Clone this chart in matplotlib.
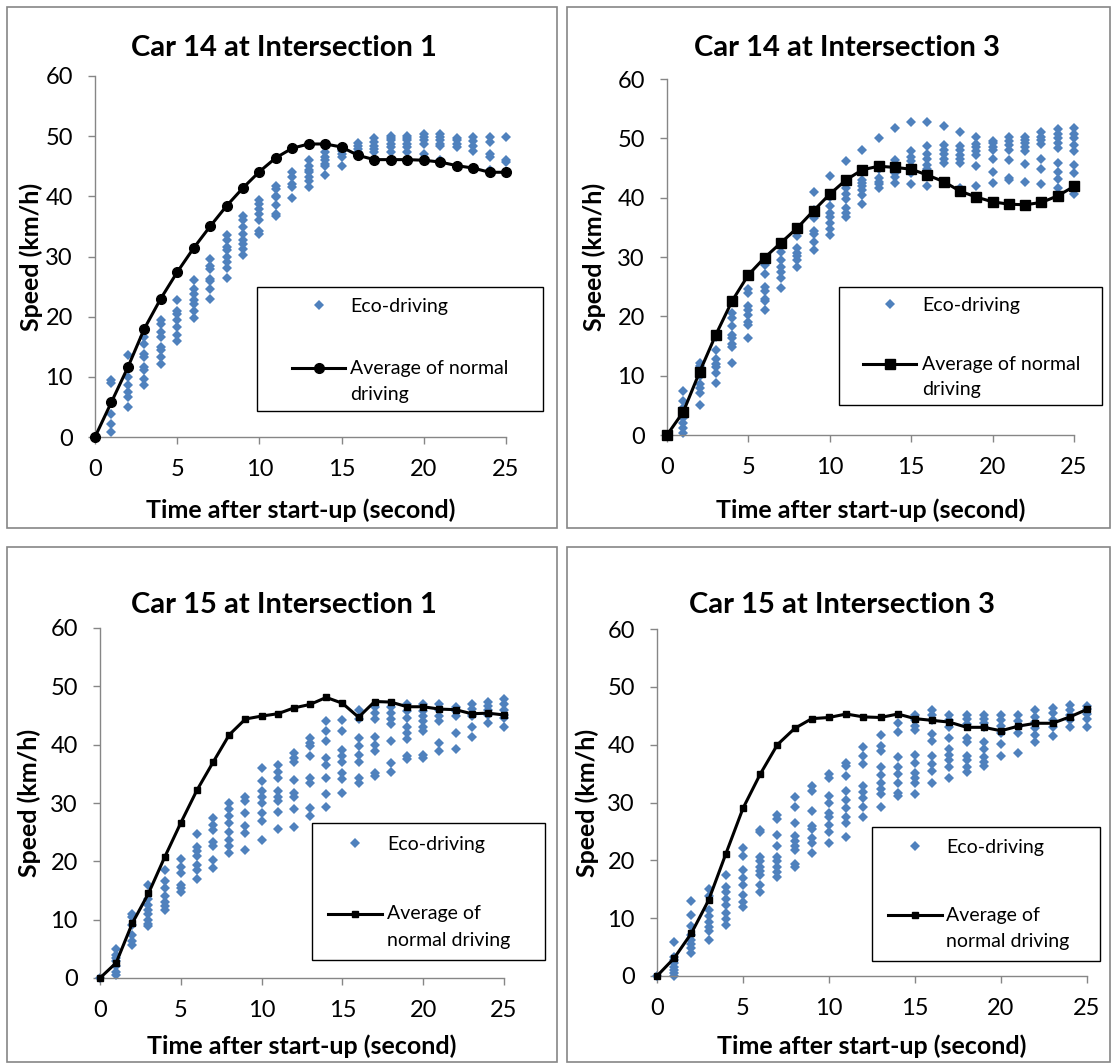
import matplotlib
matplotlib.use("Agg")
import matplotlib.pyplot as plt
from matplotlib.lines import Line2D
from matplotlib.patches import Rectangle
from matplotlib.legend_handler import HandlerLine2D
from matplotlib.transforms import Affine2D

plt.rcParams['font.family'] = ['Lato', 'DejaVu Sans']

seconds = list(range(26))

# average of normal driving (km/h), one value per second
avg_14_1 = [0, 5.8, 11.6, 18.0, 23.0, 27.4, 31.4, 35.0, 38.4, 41.4, 44.1, 46.4, 48.0,
            48.7, 48.7, 48.2, 46.8, 46.1, 46.1, 46.1, 46.0, 45.7, 45.1, 44.7, 44.0, 44.0]
avg_14_3 = [0, 3.9, 10.6, 16.9, 22.6, 27.0, 29.9, 32.4, 34.9, 37.8, 40.6, 43.0, 44.7,
            45.3, 45.1, 44.8, 43.8, 42.7, 41.1, 40.1, 39.3, 38.9, 38.8, 39.2, 40.3, 41.9]
avg_15_1 = [0, 2.6, 9.4, 14.5, 20.7, 26.6, 32.2, 37.0, 41.7, 44.4, 44.9, 45.3, 46.3,
            46.9, 48.1, 47.1, 44.7, 47.4, 47.3, 46.5, 46.5, 46.1, 46.0, 45.3, 45.4, 45.1]
avg_15_3 = [0, 3.1, 7.4, 13.1, 21.1, 29.0, 34.9, 40.0, 42.8, 44.5, 44.7, 45.3, 44.8,
            44.7, 45.3, 44.5, 44.2, 43.9, 43.0, 43.0, 42.4, 43.2, 43.7, 43.7, 44.8, 46.1]

# eco-driving speeds (km/h), one list of drivers per second
eco_14_1 = [
    [0],
    [9.5, 8.9, 5.6, 3.9, 2.2, 0.8],
    [13.6, 11.4, 10.0, 8.6, 7.5, 6.6, 5.0],
    [16.6, 15.5, 13.8, 13.3, 11.6, 11.1, 9.7, 8.7],
    [19.5, 18.8, 17.4, 16.6, 15.0, 14.4, 13.3, 12.2],
    [22.7, 21.0, 20.5, 19.4, 18.3, 16.9, 15.9],
    [26.1, 24.6, 23.8, 22.7, 22.1, 20.9, 19.7],
    [29.6, 28.5, 28.0, 26.3, 26.0, 24.6, 23.0],
    [33.5, 32.7, 31.6, 31.0, 29.9, 29.1, 28.1, 26.5],
    [36.8, 36.0, 34.9, 33.8, 32.7, 32.1, 31.3, 30.3],
    [39.4, 38.8, 37.9, 37.1, 36.0, 34.3, 33.8],
    [41.8, 41.3, 40.1, 39.9, 38.6, 37.1, 36.8],
    [44.0, 43.2, 42.1, 41.6, 39.8],
    [46.0, 45.0, 44.4, 44.0, 43.2, 42.6, 41.6],
    [47.3, 46.5, 46.0, 45.4, 45.0, 43.5],
    [47.9, 47.6, 47.1, 46.6, 45.1],
    [48.8, 48.4, 47.9, 47.3, 46.8],
    [49.7, 49.0, 48.4, 47.9, 47.3],
    [50.1, 49.7, 49.3, 48.7, 48.2, 47.3],
    [50.1, 49.7, 49.3, 48.7, 48.2, 47.3],
    [50.4, 49.8, 49.3, 48.7, 47.0],
    [50.4, 49.8, 49.3, 48.7, 48.3, 46.1],
    [49.7, 49.3, 48.7, 48.2, 45.0],
    [49.8, 49.2, 48.4, 47.6, 44.7],
    [49.8, 49.0, 47.1, 46.5, 44.4],
    [49.8, 46.0, 45.7],
]
eco_14_3 = [
    [0],
    [7.5, 5.8, 4.5, 3.7, 2.8, 2.0, 1.1, 0.4],
    [12.2, 11.6, 9.9, 8.6, 7.9, 7.0, 5.1],
    [16.5, 14.3, 12.8, 12.0, 11.4, 10.4, 8.8],
    [20.5, 19.8, 18.4, 16.9, 16.3, 15.4, 14.9, 12.2],
    [24.6, 23.9, 21.7, 21.1, 20.2, 19.1, 18.5, 16.3],
    [28.7, 27.2, 25.0, 24.3, 23.0, 22.6, 21.1],
    [32.0, 30.9, 29.5, 28.3, 27.5, 26.4, 24.7],
    [33.5, 31.5, 30.7, 30.1, 29.5, 28.3],
    [41.0, 37.9, 36.5, 34.3, 33.9, 32.6, 31.1],
    [43.7, 40.1, 38.6, 37.4, 36.7, 35.7, 34.8, 33.7],
    [46.1, 41.6, 40.7, 39.7, 38.2, 37.4, 36.7],
    [48.1, 43.0, 42.4, 41.9, 41.3, 40.4, 39.0],
    [50.0, 44.9, 43.3, 42.7, 42.3, 41.6],
    [51.7, 46.3, 45.5, 44.7, 44.1, 43.5, 42.4],
    [52.8, 47.8, 46.8, 46.1, 45.3, 44.9, 44.2, 42.3],
    [52.8, 48.7, 47.4, 46.5, 45.5, 44.8, 42.0],
    [52.0, 48.9, 48.1, 47.4, 46.6, 45.8],
    [51.1, 48.7, 48.0, 47.2, 46.6, 45.8, 41.6],
    [50.2, 49.0, 48.6, 47.9, 47.2, 45.3, 41.9],
    [49.6, 49.2, 48.6, 48.0, 46.6, 44.4, 42.4],
    [50.2, 49.6, 48.9, 48.0, 46.3, 43.3, 42.9],
    [50.3, 49.7, 49.2, 48.6, 47.9, 45.7, 42.7],
    [51.0, 50.3, 49.7, 49.0, 46.6, 44.9, 42.3],
    [51.5, 50.8, 50.0, 49.2, 48.3, 45.9, 44.4, 43.1, 41.7],
    [51.7, 50.8, 50.0, 48.9, 47.9, 45.5, 44.1, 40.7],
]
eco_15_1 = [
    [0],
    [4.9, 4.0, 3.4, 2.9, 2.0, 1.1, 0.6],
    [10.9, 10.5, 9.1, 7.4, 6.3, 5.7],
    [16.0, 13.5, 12.6, 11.7, 10.9, 10.0, 9.3, 8.9],
    [18.5, 16.6, 15.4, 14.0, 13.1, 12.4, 11.6],
    [20.4, 19.1, 18.0, 16.0, 15.4, 14.7],
    [24.7, 22.5, 21.7, 20.9, 19.4, 18.6, 17.0],
    [27.4, 26.3, 25.4, 23.4, 22.6, 20.3, 18.9],
    [30.0, 29.0, 27.7, 26.6, 25.1, 23.7, 22.6, 21.4],
    [31.1, 30.3, 28.3, 26.0, 24.9, 22.0],
    [36.0, 33.7, 32.0, 31.1, 30.0, 28.3, 26.9, 23.7],
    [36.6, 35.4, 34.3, 32.0, 31.1, 30.3, 28.4, 25.5],
    [38.6, 37.7, 37.1, 34.0, 31.7, 31.1, 29.0, 25.9],
    [41.1, 40.3, 39.7, 38.0, 34.3, 33.4, 29.1, 27.8],
    [44.0, 42.3, 40.6, 37.7, 36.6, 34.3, 31.6, 29.3],
    [44.2, 42.3, 39.1, 38.1, 37.1, 35.1, 34.1, 31.8],
    [46.0, 44.4, 41.1, 39.7, 38.3, 37.1, 34.3, 33.5],
    [46.5, 45.4, 44.4, 41.4, 40.0, 39.0, 35.1, 34.7],
    [46.5, 45.4, 44.4, 43.6, 40.6, 36.9, 35.4],
    [46.9, 45.7, 44.6, 43.0, 42.0, 41.0, 38.0, 37.5],
    [46.9, 45.7, 44.9, 44.0, 43.1, 42.3, 38.3, 37.7],
    [46.9, 45.9, 44.9, 44.0, 40.3, 39.0],
    [46.5, 45.7, 44.9, 42.0, 39.3],
    [46.9, 46.1, 45.3, 44.9, 43.1, 41.3],
    [47.4, 46.7, 45.9, 45.1, 43.7],
    [47.8, 46.9, 46.0, 45.1, 44.6, 43.0],
]
eco_15_3 = [
    [0],
    [5.9, 3.3, 2.8, 2.2, 1.6, 1.0, 0.5, 0.0],
    [13.0, 10.5, 8.6, 7.1, 6.2, 5.6, 4.8, 3.9],
    [15.0, 13.8, 11.4, 10.3, 9.4, 8.5, 7.7, 6.3],
    [17.5, 15.4, 14.6, 13.4, 12.3, 10.9, 9.8, 8.8],
    [22.1, 20.7, 18.3, 16.9, 15.7, 14.0, 12.8, 11.9],
    [25.3, 24.9, 20.6, 19.9, 18.9, 18.2, 17.5, 15.7, 14.6],
    [27.8, 27.2, 24.4, 22.4, 20.6, 19.8, 18.8, 17.9, 17.1],
    [31.0, 29.3, 26.4, 24.2, 23.4, 22.4, 21.8, 19.4, 18.9],
    [32.8, 32.0, 28.6, 25.9, 25.5, 23.8, 23.0, 21.3],
    [34.9, 34.3, 31.1, 30.0, 28.1, 27.5, 26.1, 24.9, 23.0],
    [36.9, 36.3, 34.6, 32.0, 30.4, 29.0, 27.5, 26.4, 24.0],
    [39.6, 38.0, 36.6, 32.8, 31.9, 30.7, 29.3, 27.5],
    [41.6, 39.7, 38.9, 36.2, 34.7, 33.3, 32.4, 31.5, 29.3],
    [43.7, 42.2, 37.9, 36.2, 34.9, 33.3, 31.6, 31.1],
    [45.1, 44.2, 43.2, 42.6, 38.2, 36.8, 35.1, 34.3, 33.4, 31.5],
    [46.0, 45.1, 44.2, 41.9, 40.7, 38.0, 36.6, 35.5, 33.3],
    [45.1, 44.2, 43.0, 41.1, 39.3, 38.2, 37.3, 36.2, 34.3],
    [45.1, 44.5, 43.5, 41.1, 40.5, 38.0, 37.3, 36.2, 35.3],
    [45.1, 44.4, 43.7, 43.0, 40.5, 39.2, 37.9, 37.0, 36.3],
    [45.1, 44.2, 43.2, 42.1, 40.1, 38.0],
    [45.1, 44.1, 43.1, 42.1, 38.6],
    [46.0, 44.8, 44.0, 42.8, 41.6, 40.5],
    [46.3, 45.4, 44.2, 43.1, 41.5],
    [46.8, 46.0, 45.1, 44.2, 43.0],
    [46.7, 46.1, 45.3, 44.5, 43.1],
]

titles = ["Car 14 at Intersection 1", "Car 14 at Intersection 3",
          "Car 15 at Intersection 1", "Car 15 at Intersection 3"]
x_ticks = [0, 5, 10, 15, 20, 25]
y_ticks = [0, 10, 20, 30, 40, 50, 60]

W, H = 1113, 1064
ECO = '#4F81BD'
GRID = '#868686'


class FirstLineHandler(HandlerLine2D):
    """Put the line handle next to the first line of a two-line label."""
    def __init__(self, shift, **kw):
        super().__init__(**kw)
        self.shift = shift

    def create_artists(self, legend, orig_handle, xdescent, ydescent,
                       width, height, fontsize, trans):
        trans = Affine2D().translate(0, self.shift) + trans
        return super().create_artists(legend, orig_handle, xdescent, ydescent,
                                      width, height, fontsize, trans)


def fx(px):
    return px / W


def fy(py):
    return 1 - py / H


def draw_panel(fig, p, title, avg, eco):
    # outer chart border
    x0, y0, x1, y1 = p['box']
    fig.patches.append(Rectangle((fx(x0), fy(y1)), fx(x1 - x0), (y1 - y0) / H,
                                 transform=fig.transFigure, fill=False,
                                 edgecolor=GRID, linewidth=1.2))
    ax0, ay0, ax1, ay1 = p['axes']
    ax = fig.add_axes([fx(ax0), fy(ay1), fx(ax1 - ax0), (ay1 - ay0) / H])

    ex = [t for t, vals in zip(seconds, eco) for _ in vals]
    ey = [v for vals in eco for v in vals]
    ax.plot(ex, ey, linestyle='none', marker='D', markersize=5.2, color=ECO,
            markeredgewidth=0, label='Eco-driving', zorder=2, clip_on=False)
    ax.plot(seconds, avg, color='black', linewidth=2.2, marker=p['marker'],
            markersize=p['ms'], zorder=3, clip_on=False)

    ax.set_xlim(0, 25)
    ax.set_ylim(0, 60)
    ax.set_xticks(x_ticks)
    ax.set_yticks(y_ticks)
    for s in ['top', 'right']:
        ax.spines[s].set_visible(False)
    for s in ['left', 'bottom']:
        ax.spines[s].set_color(GRID)
        ax.spines[s].set_linewidth(1.0)
    ax.tick_params(direction='out', length=5, width=1.0, color=GRID,
                   labelsize=17, labelcolor='black')
    ax.tick_params(axis='x', pad=11)
    ax.tick_params(axis='y', pad=11)

    ah = ay1 - ay0
    aw = ax1 - ax0
    ax.set_xlabel('Time after start-up (second)', fontsize=18, fontweight='bold',
                  va='center')
    ax.xaxis.set_label_coords(0.5, -(p['xlab_y'] - ay1) / ah)
    ax.set_ylabel('Speed (km/h)', fontsize=18, fontweight='bold', va='center')
    ax.yaxis.set_label_coords(-(ax0 - p['ylab_x']) / aw, 0.5)

    tx, ty = p['title']
    fig.text(fx(tx), fy(ty), title, fontsize=21, fontweight='bold',
             ha='center', va='center')

    # legend frame and entries
    lx0, ly0, lx1, ly1 = p['leg_box']
    fig.patches.append(Rectangle((fx(lx0), fy(ly1)), fx(lx1 - lx0), (ly1 - ly0) / H,
                                 transform=fig.transFigure, fill=False,
                                 edgecolor='black', linewidth=1.0, zorder=5))
    avg_handle = Line2D([], [], color='black', linewidth=2.2,
                        marker=p['marker'], markersize=p['ms'])
    eco_handle = Line2D([], [], linestyle='none', marker='D', markersize=5.2,
                        color=ECO, markeredgewidth=0)
    fs = 14
    hl = p['leg_line'][1] - p['leg_line'][0]
    leg = ax.legend([eco_handle, avg_handle], ['Eco-driving', p['avg_label']],
                    loc='upper left', frameon=False, borderpad=0, borderaxespad=0,
                    bbox_to_anchor=(fx(p['leg_line'][0]), fy(p['leg_top'])),
                    bbox_transform=fig.transFigure, fontsize=fs,
                    handlelength=hl * 0.72 / fs,
                    handletextpad=(p['leg_text_x'] - p['leg_line'][1]) * 0.72 / fs,
                    labelspacing=p['leg_space'],
                    handler_map={avg_handle: FirstLineHandler(p['leg_shift'])})
    for t in leg.get_texts():
        t.set_linespacing(p['leg_ls'])
    return ax


panels = [
    dict(box=(7, 7, 557, 528), axes=(95, 76, 506, 437), marker='o', ms=7,
         title=(284, 48), xlab_y=510, ylab_x=31,
         leg_box=(257, 287, 543, 411), leg_line=(292, 345), leg_text_x=350,
         leg_top=298, leg_space=2.3, leg_ls=1.65, leg_shift=9.5,
         avg_label='Average of normal\ndriving'),
    dict(box=(567, 7, 1110, 528), axes=(667, 79, 1074, 435), marker='s', ms=6.5,
         title=(847, 48), xlab_y=510, ylab_x=594,
         leg_box=(839, 287, 1102, 405), leg_line=(863, 916), leg_text_x=922,
         leg_top=297, leg_space=2.15, leg_ls=1.55, leg_shift=9.0,
         avg_label='Average of normal\ndriving'),
    dict(box=(7, 547, 557, 1062), axes=(100, 628, 504, 978), marker='s', ms=4.5,
         title=(284, 605), xlab_y=1046, ylab_x=29,
         leg_box=(312, 823, 545, 960), leg_line=(328, 382), leg_text_x=387,
         leg_top=836, leg_space=2.7, leg_ls=1.7, leg_shift=10.0,
         avg_label='Average of\nnormal driving'),
    dict(box=(567, 547, 1110, 1062), axes=(657, 629, 1087, 976), marker='s', ms=4.5,
         title=(842, 605), xlab_y=1046, ylab_x=587,
         leg_box=(872, 827, 1100, 961), leg_line=(888, 942), leg_text_x=946,
         leg_top=839, leg_space=2.6, leg_ls=1.7, leg_shift=10.0,
         avg_label='Average of\nnormal driving'),
]

fig = plt.figure(figsize=(W / 100, H / 100), dpi=100)
for p, title, avg, eco in zip(panels, titles,
                              [avg_14_1, avg_14_3, avg_15_1, avg_15_3],
                              [eco_14_1, eco_14_3, eco_15_1, eco_15_3]):
    draw_panel(fig, p, title, avg, eco)

fig.savefig('out.png', dpi=100)
